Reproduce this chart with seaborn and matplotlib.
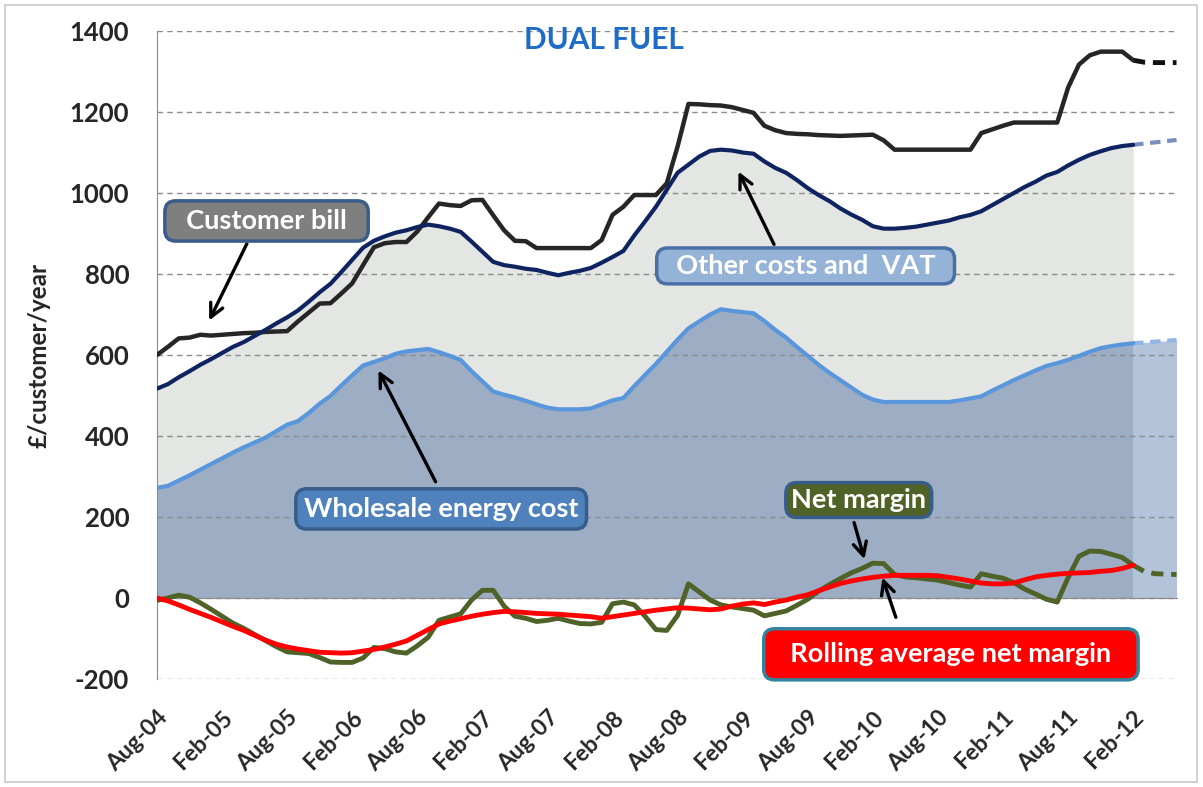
import matplotlib
matplotlib.use("Agg")
import matplotlib.pyplot as plt
from matplotlib.patches import Rectangle
import pandas as pd
import seaborn as sns

# **Data** - monthly, Aug-04 (0) .. Feb-12 (90), £/customer/year
months = list(range(91))

customer_bill = [600, 620, 641, 643, 650, 648, 650, 652, 654, 655,
                 657, 658, 659, 683, 705, 727, 728, 752, 777, 822,
                 866, 876, 879, 879, 905, 940, 974, 970, 968, 982,
                 983, 945, 908, 882, 881, 864, 864, 864, 864, 864,
                 864, 884, 946, 966, 995, 995, 995, 1024, 1115, 1220,
                 1219, 1217, 1216, 1212, 1205, 1198, 1166, 1155, 1148, 1146,
                 1145, 1143, 1142, 1141, 1142, 1143, 1144, 1130, 1107, 1107,
                 1107, 1107, 1107, 1107, 1107, 1107, 1148, 1157, 1166, 1174,
                 1174, 1174, 1174, 1174, 1260, 1317, 1340, 1349, 1349, 1349,
                 1328]

total_costs = [517, 528, 545, 560, 576, 590, 605, 620, 632, 647,
               662, 678, 693, 710, 732, 755, 776, 805, 835, 865,
               882, 893, 902, 908, 916, 922, 918, 912, 904, 880,
               855, 830, 822, 818, 813, 810, 803, 797, 803, 808,
               815, 828, 842, 857, 895, 930, 966, 1008, 1050, 1070,
               1090, 1104, 1107, 1105, 1100, 1097, 1078, 1062, 1050, 1032,
               1012, 995, 980, 962, 947, 934, 918, 912, 912, 914,
               917, 922, 927, 932, 940, 946, 955, 970, 985, 1000,
               1015, 1028, 1043, 1052, 1068, 1082, 1094, 1103, 1111, 1116,
               1119]

wholesale = [272, 277, 290, 303, 317, 331, 345, 359, 372, 384,
             396, 412, 428, 437, 457, 480, 499, 525, 550, 574,
             583, 592, 603, 609, 612, 615, 607, 598, 588, 560,
             535, 510, 502, 495, 487, 478, 470, 466, 466, 466,
             468, 478, 488, 494, 523, 551, 578, 608, 638, 666,
             683, 700, 713, 709, 706, 703, 684, 662, 643, 620,
             598, 576, 556, 538, 520, 502, 490, 484, 484, 484,
             484, 484, 484, 484, 488, 493, 498, 512, 525, 538,
             550, 562, 573, 580, 588, 598, 608, 617, 622, 626,
             629]

net_margin = [-6, 0, 7, 2, -12, -28, -45, -62, -75, -90,
              -105, -120, -133, -135, -137, -147, -158, -159, -159, -148,
              -122, -125, -133, -136, -118, -97, -55, -47, -39, -5,
              19, 19, -20, -45, -50, -58, -55, -50, -57, -63,
              -64, -60, -14, -10, -17, -45, -78, -80, -43, 35,
              15, -5, -17, -22, -26, -30, -44, -38, -32, -18,
              -3, 17, 33, 48, 62, 73, 86, 85, 58, 52,
              50, 47, 44, 38, 32, 27, 60, 54, 49, 38,
              22, 10, -3, -10, 50, 103, 116, 115, 108, 100,
              81]

rolling_margin = [0, -7, -17, -28, -38, -48, -59, -70, -80, -92,
                  -104, -114, -121, -126, -130, -134, -135, -136, -135, -131,
                  -127, -121, -114, -106, -92, -78, -64, -57, -51, -45,
                  -40, -36, -33, -34, -36, -38, -39, -40, -42, -44,
                  -46, -50, -46, -42, -38, -34, -30, -27, -24, -25,
                  -27, -29, -27, -20, -15, -12, -16, -10, -5, 2,
                  8, 18, 27, 36, 42, 47, 51, 54, 56, 56,
                  56, 56, 55, 51, 47, 42, 37, 35, 35, 37,
                  45, 52, 56, 59, 61, 62, 63, 66, 68, 73,
                  81]

# projection, Feb-12 .. Jun-12
proj_months = [90, 91, 92, 93, 94]
bill_proj = [1328, 1323, 1322, 1322, 1322]
costs_proj = [1119, 1122, 1125, 1128, 1131]
wholesale_proj = [629, 631, 633, 635, 637]
margin_proj = [81, 66, 60, 59, 58]

tick_pos = list(range(0, 91, 6))
tick_labels = ['Aug-04', 'Feb-05', 'Aug-05', 'Feb-06', 'Aug-06', 'Feb-07', 'Aug-07', 'Feb-08',
               'Aug-08', 'Feb-09', 'Aug-09', 'Feb-10', 'Aug-10', 'Feb-11', 'Aug-11', 'Feb-12']

df = pd.DataFrame({'month': months, 'bill': customer_bill, 'costs': total_costs,
                   'wholesale': wholesale, 'margin': net_margin, 'rolling': rolling_margin})
proj = pd.DataFrame({'month': proj_months, 'bill': bill_proj, 'costs': costs_proj,
                     'wholesale': wholesale_proj, 'margin': margin_proj})

# **Style**
sns.set_style("white")
plt.rcParams['font.family'] = ['Lato', 'DejaVu Sans']
plt.rcParams['font.weight'] = 'bold'
plt.rcParams['axes.unicode_minus'] = False

fig = plt.figure(figsize=(12.03, 7.87), dpi=100)
ax = fig.add_axes([0.1305, 0.1372, 0.8475, 0.8234])
fig.patches.append(Rectangle((0.004, 0.006), 0.991, 0.988, transform=fig.transFigure,
                             fill=False, ec='#c8c8c8', lw=1.2))

# **Areas**
ax.fill_between(df['month'], 0, df['costs'], color='#e3e6e3', lw=0, zorder=1)
ax.fill_between(df['month'], 0, df['wholesale'], color='#9cadc4', lw=0, zorder=1.1)
ax.fill_between(proj['month'], 0, proj['wholesale'], color='#b3c4da', lw=0, zorder=1.1)

# **Lines**
sns.lineplot(data=df, x='month', y='bill', color='#262626', lw=3.2, ax=ax, zorder=3)
sns.lineplot(data=df, x='month', y='costs', color='#0f2360', lw=3, ax=ax, zorder=3)
sns.lineplot(data=df, x='month', y='wholesale', color='#5a96dc', lw=3, ax=ax, zorder=3)
sns.lineplot(data=df, x='month', y='margin', color='#4f6228', lw=3.5, ax=ax, zorder=3)
sns.lineplot(data=df, x='month', y='rolling', color='#ff0000', lw=3.5, ax=ax, zorder=3.1)

sns.lineplot(data=proj, x='month', y='bill', color='#111111', lw=3.5, ls=(0, (2.5, 1.6)), ax=ax)
sns.lineplot(data=proj, x='month', y='costs', color='#7890bd', lw=3, ls=(0, (2.5, 1.6)), ax=ax)
sns.lineplot(data=proj, x='month', y='wholesale', color='#8fb5e6', lw=3, ls=(0, (2.5, 1.6)), ax=ax)
sns.lineplot(data=proj, x='month', y='margin', color='#4f6228', lw=3.5, ls=(0, (2.5, 1.6)), ax=ax)

# **Axes**
ax.set_xlim(0, 94)
ax.set_ylim(-200, 1400)
ax.set_yticks(range(-200, 1401, 200))
ax.set_axisbelow('line')
ax.yaxis.grid(True, ls=(0, (4, 3)), color='#8c8c8c', lw=1)
for s in ['top', 'right']:
    ax.spines[s].set_visible(False)
ax.spines['left'].set_color('#8c8c8c')
ax.spines['bottom'].set_position(('data', 0))
ax.spines['bottom'].set_color('#8c8c8c')
ax.set_xticks(tick_pos)
ax.tick_params(axis='x', direction='out', length=8, color='#8c8c8c', labelbottom=False)
ax.tick_params(axis='y', direction='out', length=8, color='#8c8c8c', labelsize=18.5, pad=12)
ax.set_xlabel('')
ax.set_ylabel('£/customer/year', fontsize=17.5, fontweight='bold', labelpad=14)

sec = ax.secondary_xaxis('bottom')
sec.set_xticks(tick_pos, labels=tick_labels)
sec.tick_params(length=0, pad=20, labelsize=16.5)
sec.spines['bottom'].set_visible(False)
for lab in sec.get_xticklabels():
    lab.set_rotation(45)
    lab.set_ha('right')
    lab.set_rotation_mode('anchor')
    lab.set_fontweight('bold')

# **Annotations**
ax.text(41.2, 1378, 'DUAL FUEL', color='#1f6cc8', fontsize=21.5, fontweight='bold',
        ha='center', va='center')

def label_box(x, y, text, fc, ec, size=19.5, pad=0.3):
    ax.text(x, y, text, color='white', fontsize=size, fontweight='bold', ha='center',
            va='center', zorder=6,
            bbox=dict(boxstyle=f'round,pad={pad},rounding_size=0.4', fc=fc, ec=ec, lw=2.5))

def arrow(tail, tip):
    ax.annotate('', xy=tip, xytext=tail, zorder=5,
                arrowprops=dict(arrowstyle='->', color='black', lw=2.4, mutation_scale=24))

label_box(10.1, 931, '  Customer bill  ', '#7f7f7f', '#385d8a')
arrow((8.4, 881), (4.7, 679))

label_box(59.8, 820, '  Other costs and  VAT  ', '#95b3d7', '#4a6fa5', pad=0.22)
arrow((57.0, 867), (53.5, 1059))

label_box(26.2, 220, 'Wholesale energy cost', '#4f81bd', '#385d8a')
arrow((25.8, 281), (20.3, 568))

label_box(64.7, 242, 'Net margin', '#4f6228', '#385d8a', pad=0.2)
arrow((64.2, 193), (65.3, 89))

label_box(73.2, -139, '  Rolling average net margin  ', '#ff0000', '#31849b', pad=0.5)
arrow((68.2, -54), (66.8, 57))

fig.savefig('out.png', dpi=100)
